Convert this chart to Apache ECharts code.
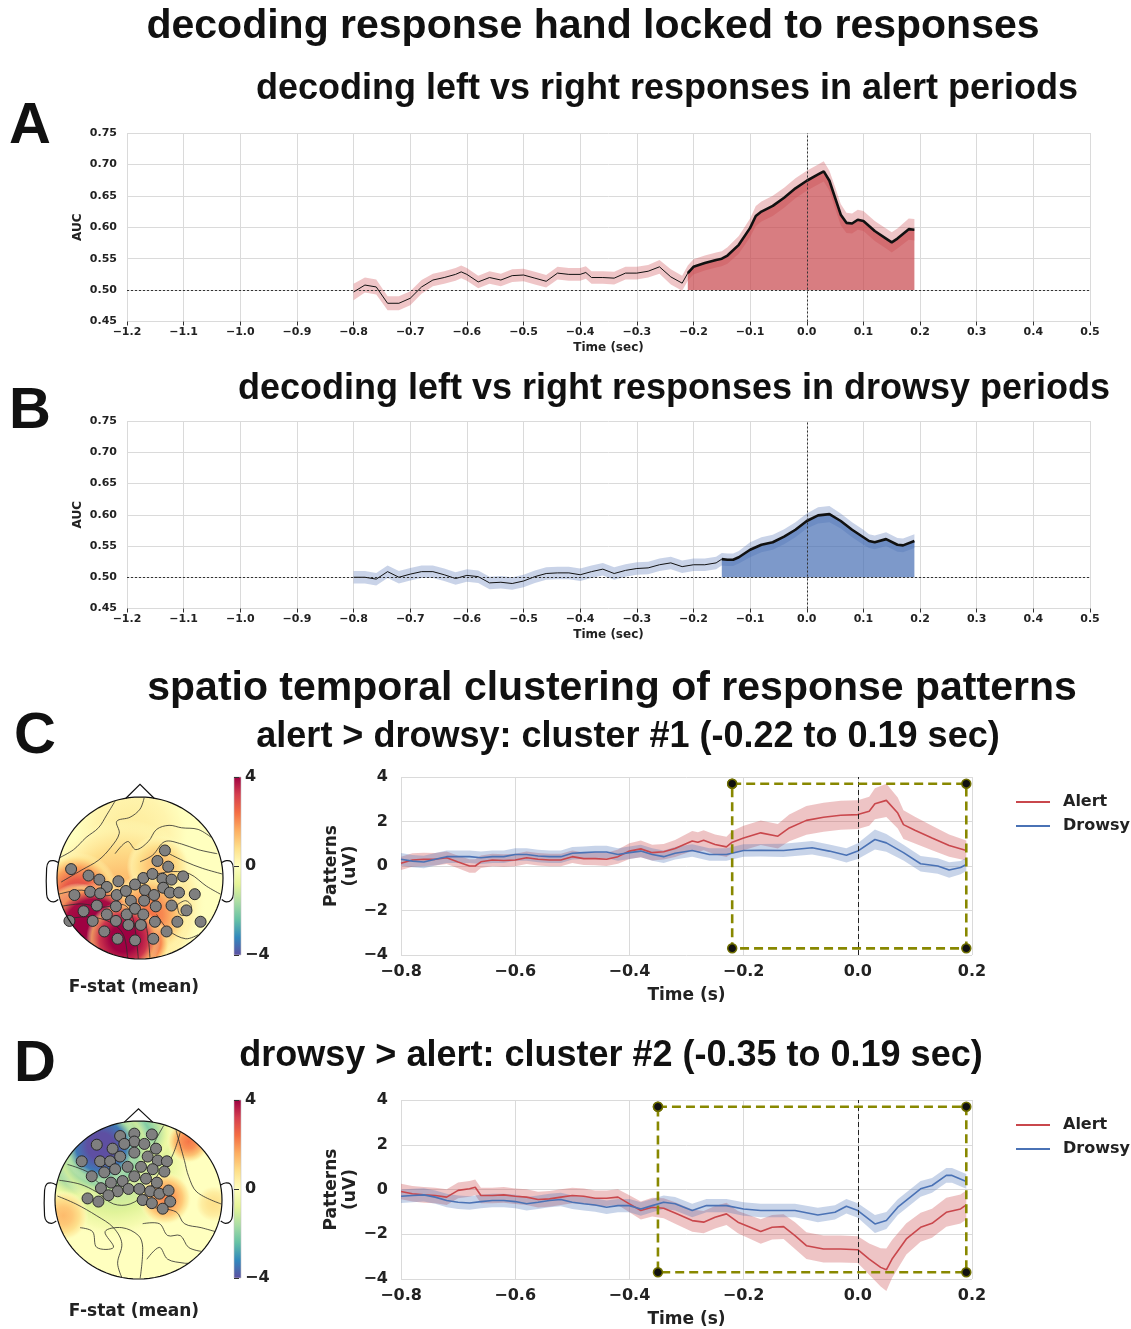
<!DOCTYPE html>
<html><head><meta charset="utf-8">
<script src="https://cdn.jsdelivr.net/npm/echarts@6/dist/echarts.min.js"></script>
<style>html,body{margin:0;padding:0;background:#fff}#chart{width:1131px;height:1329px}</style>
</head><body><div id="chart"></div>
<script>
// ---------- decoding AUC, alert periods ----------
const tA = [-0.80,-0.78,-0.76,-0.74,-0.72,-0.70,-0.68,-0.66,-0.64,-0.62,-0.61,-0.60,-0.58,-0.56,-0.54,-0.52,-0.50,-0.48,-0.46,-0.44,-0.42,-0.40,-0.39,-0.38,-0.36,-0.34,-0.32,-0.30,-0.28,-0.26,-0.24,-0.22,-0.21,-0.20,-0.18,-0.16,-0.15,-0.14,-0.12,-0.10,-0.09,-0.08,-0.06,-0.04,-0.02,0.00,0.02,0.03,0.04,0.05,0.06,0.07,0.08,0.09,0.10,0.12,0.14,0.15,0.16,0.18,0.19];
const aucA = [0.497,0.508,0.505,0.479,0.479,0.487,0.505,0.516,0.520,0.525,0.529,0.525,0.513,0.520,0.516,0.523,0.524,0.519,0.514,0.527,0.525,0.525,0.528,0.520,0.520,0.519,0.527,0.527,0.530,0.537,0.521,0.511,0.527,0.537,0.543,0.548,0.550,0.555,0.572,0.599,0.618,0.625,0.634,0.647,0.662,0.674,0.684,0.689,0.674,0.647,0.620,0.607,0.606,0.612,0.610,0.594,0.582,0.576,0.582,0.597,0.596];
const semA = [0.013,0.012,0.012,0.011,0.011,0.011,0.011,0.010,0.010,0.010,0.010,0.010,0.010,0.010,0.010,0.010,0.010,0.010,0.010,0.010,0.010,0.010,0.010,0.010,0.010,0.010,0.010,0.010,0.010,0.011,0.012,0.012,0.012,0.012,0.012,0.012,0.012,0.013,0.014,0.015,0.016,0.016,0.016,0.016,0.016,0.016,0.016,0.016,0.016,0.017,0.017,0.016,0.016,0.016,0.016,0.016,0.016,0.016,0.016,0.017,0.017];
const sigStartA = -0.21;

// ---------- decoding AUC, drowsy periods ----------
const tB = [-0.80,-0.78,-0.76,-0.74,-0.72,-0.70,-0.68,-0.66,-0.64,-0.62,-0.60,-0.58,-0.56,-0.54,-0.52,-0.50,-0.48,-0.46,-0.44,-0.42,-0.40,-0.38,-0.36,-0.34,-0.32,-0.30,-0.28,-0.26,-0.24,-0.22,-0.20,-0.18,-0.16,-0.15,-0.14,-0.13,-0.12,-0.10,-0.08,-0.06,-0.04,-0.02,0.00,0.02,0.04,0.06,0.08,0.10,0.11,0.12,0.14,0.16,0.17,0.19];
const aucB = [0.500,0.500,0.497,0.509,0.500,0.505,0.509,0.509,0.504,0.498,0.503,0.501,0.491,0.492,0.490,0.494,0.501,0.506,0.507,0.507,0.504,0.509,0.513,0.506,0.511,0.514,0.515,0.520,0.523,0.517,0.520,0.520,0.523,0.529,0.528,0.528,0.532,0.544,0.552,0.556,0.565,0.576,0.590,0.599,0.601,0.590,0.576,0.564,0.558,0.556,0.561,0.552,0.551,0.558];
const semB = [0.010,0.010,0.010,0.010,0.010,0.010,0.010,0.010,0.010,0.010,0.010,0.010,0.010,0.010,0.010,0.010,0.010,0.010,0.010,0.010,0.010,0.010,0.010,0.010,0.010,0.010,0.010,0.010,0.010,0.010,0.010,0.010,0.010,0.010,0.010,0.010,0.010,0.012,0.012,0.012,0.012,0.012,0.012,0.013,0.013,0.012,0.012,0.012,0.011,0.011,0.011,0.011,0.011,0.011];
const sigStartB = -0.15;

// ---------- cluster #1 patterns (alert > drowsy) ----------
const tCAlert = [-0.80,-0.78,-0.76,-0.74,-0.72,-0.70,-0.68,-0.67,-0.66,-0.64,-0.62,-0.60,-0.58,-0.56,-0.54,-0.52,-0.50,-0.48,-0.46,-0.44,-0.42,-0.40,-0.38,-0.36,-0.34,-0.32,-0.29,-0.28,-0.27,-0.25,-0.23,-0.22,-0.20,-0.17,-0.14,-0.12,-0.09,-0.06,-0.03,0.00,0.02,0.03,0.05,0.07,0.08,0.10,0.13,0.16,0.19];
const cAlert = [0.12,0.27,0.30,0.30,0.37,0.18,0.00,0.00,0.19,0.27,0.25,0.27,0.37,0.30,0.27,0.27,0.42,0.33,0.33,0.30,0.42,0.67,0.77,0.60,0.64,0.79,1.12,1.07,1.16,0.97,0.86,1.07,1.26,1.49,1.34,1.71,2.05,2.19,2.28,2.31,2.46,2.80,2.95,2.38,1.86,1.61,1.26,0.92,0.70];
const cAlertSem = [0.30,0.30,0.30,0.28,0.28,0.28,0.30,0.30,0.28,0.28,0.28,0.28,0.28,0.28,0.28,0.28,0.28,0.28,0.30,0.30,0.32,0.35,0.38,0.35,0.35,0.38,0.45,0.45,0.45,0.45,0.45,0.50,0.55,0.55,0.55,0.60,0.65,0.65,0.65,0.65,0.65,0.70,0.75,0.70,0.65,0.60,0.55,0.50,0.45];
const tCDrowsy = [-0.80,-0.78,-0.76,-0.74,-0.72,-0.70,-0.68,-0.66,-0.64,-0.62,-0.60,-0.58,-0.56,-0.54,-0.52,-0.50,-0.48,-0.46,-0.44,-0.42,-0.40,-0.38,-0.36,-0.34,-0.32,-0.29,-0.26,-0.23,-0.20,-0.17,-0.13,-0.08,-0.05,-0.02,0.00,0.03,0.05,0.08,0.11,0.14,0.16,0.18,0.19];
const cDrowsy = [0.30,0.22,0.18,0.30,0.42,0.42,0.42,0.37,0.42,0.42,0.52,0.52,0.45,0.42,0.42,0.57,0.60,0.63,0.63,0.52,0.60,0.67,0.52,0.42,0.57,0.70,0.52,0.52,0.70,0.71,0.70,0.82,0.67,0.48,0.67,1.19,1.04,0.60,0.10,0.00,-0.18,-0.07,0.07];
const cDrowsySem = [0.28,0.28,0.28,0.28,0.28,0.28,0.28,0.28,0.28,0.28,0.28,0.28,0.28,0.28,0.28,0.28,0.28,0.28,0.28,0.28,0.28,0.28,0.28,0.28,0.28,0.28,0.28,0.28,0.28,0.28,0.30,0.30,0.30,0.32,0.35,0.45,0.40,0.35,0.35,0.35,0.35,0.30,0.30];
const clusterC = [-0.22, 0.19];

// ---------- cluster #2 patterns (drowsy > alert) ----------
const tDAlert = [-0.80,-0.78,-0.76,-0.74,-0.72,-0.70,-0.68,-0.67,-0.66,-0.64,-0.62,-0.60,-0.58,-0.56,-0.54,-0.52,-0.50,-0.48,-0.46,-0.44,-0.42,-0.40,-0.38,-0.36,-0.34,-0.32,-0.29,-0.27,-0.25,-0.23,-0.21,-0.17,-0.15,-0.13,-0.11,-0.09,-0.06,-0.03,0.00,0.02,0.04,0.05,0.06,0.085,0.11,0.13,0.155,0.18,0.19];
const dAlert = [-0.09,-0.19,-0.24,-0.27,-0.34,-0.04,0.03,0.10,-0.27,-0.27,-0.24,-0.30,-0.34,-0.45,-0.42,-0.34,-0.27,-0.30,-0.39,-0.39,-0.34,-0.64,-0.94,-0.79,-0.84,-1.05,-1.39,-1.46,-1.24,-1.09,-1.46,-1.88,-1.69,-1.66,-2.06,-2.51,-2.66,-2.66,-2.69,-3.11,-3.48,-3.59,-3.11,-2.21,-1.69,-1.51,-1.02,-0.87,-0.69];
const dAlertSem = [0.35,0.35,0.35,0.35,0.35,0.35,0.35,0.35,0.35,0.35,0.35,0.35,0.35,0.35,0.35,0.35,0.35,0.35,0.35,0.35,0.35,0.38,0.40,0.42,0.45,0.48,0.50,0.50,0.50,0.50,0.50,0.55,0.55,0.55,0.60,0.60,0.60,0.60,0.60,0.70,0.85,0.95,0.85,0.70,0.65,0.65,0.65,0.65,0.65];
const tDDrowsy = [-0.80,-0.78,-0.76,-0.74,-0.72,-0.70,-0.68,-0.66,-0.64,-0.62,-0.60,-0.58,-0.56,-0.54,-0.52,-0.50,-0.48,-0.46,-0.44,-0.42,-0.40,-0.38,-0.36,-0.34,-0.32,-0.29,-0.265,-0.23,-0.20,-0.17,-0.11,-0.07,-0.04,-0.02,0.00,0.03,0.05,0.07,0.11,0.13,0.155,0.165,0.19];
const dDrowsy = [-0.30,-0.27,-0.24,-0.34,-0.49,-0.57,-0.60,-0.54,-0.49,-0.49,-0.54,-0.64,-0.57,-0.49,-0.45,-0.57,-0.64,-0.69,-0.79,-0.72,-0.72,-0.87,-0.72,-0.57,-0.64,-0.94,-0.72,-0.72,-0.87,-0.94,-0.94,-1.14,-1.02,-0.75,-0.94,-1.54,-1.39,-0.79,0.03,0.18,0.63,0.63,0.36];
const dDrowsySem = [0.30,0.30,0.30,0.30,0.30,0.30,0.30,0.30,0.30,0.30,0.30,0.30,0.30,0.30,0.30,0.30,0.30,0.30,0.30,0.30,0.30,0.30,0.30,0.30,0.30,0.30,0.30,0.30,0.30,0.30,0.30,0.32,0.32,0.32,0.32,0.40,0.38,0.35,0.35,0.33,0.33,0.33,0.33];
const clusterD = [-0.35, 0.19];
const boxHalfHeight = 3.7;

// ---------- topographies: sensor positions (head radius = 1) ----------
const sensorsC = [[0.30,0.34],[0.21,0.21],[0.34,0.14],[-0.83,0.11],[-0.62,0.03],[-0.49,-0.02],[-0.26,-0.04],[0.04,0.00],[0.15,0.05],[0.27,-0.01],[0.38,-0.02],[0.52,0.02],[-0.40,-0.11],[-0.06,-0.08],[0.06,-0.15],[0.28,-0.12],[-0.79,-0.21],[-0.60,-0.17],[-0.48,-0.19],[-0.28,-0.21],[-0.17,-0.16],[0.17,-0.21],[0.36,-0.18],[0.47,-0.18],[0.66,-0.20],[-0.52,-0.34],[-0.29,-0.35],[-0.11,-0.28],[0.05,-0.28],[0.19,-0.35],[0.38,-0.34],[0.56,-0.40],[-0.68,-0.41],[-0.40,-0.45],[-0.16,-0.45],[-0.06,-0.38],[0.04,-0.45],[-0.85,-0.53],[-0.57,-0.53],[-0.29,-0.53],[-0.14,-0.58],[0.01,-0.58],[0.18,-0.54],[0.45,-0.54],[0.73,-0.54],[-0.43,-0.66],[0.32,-0.66],[-0.27,-0.75],[-0.06,-0.77],[0.16,-0.75]];
const sensorsD = [[-0.05,0.84],[0.16,0.83],[-0.22,0.81],[-0.50,0.70],[-0.05,0.74],[0.07,0.71],[-0.17,0.71],[-0.31,0.65],[0.21,0.65],[-0.68,0.49],[-0.46,0.49],[-0.34,0.49],[-0.22,0.55],[-0.05,0.60],[0.11,0.55],[0.23,0.50],[0.34,0.49],[-0.41,0.35],[-0.28,0.39],[-0.13,0.42],[0.03,0.42],[0.17,0.39],[0.31,0.36],[-0.56,0.30],[-0.33,0.22],[-0.19,0.24],[-0.05,0.30],[0.09,0.27],[0.22,0.22],[-0.45,0.15],[-0.25,0.11],[-0.12,0.14],[0.01,0.14],[0.14,0.11],[0.25,0.08],[0.36,0.12],[-0.61,0.02],[-0.48,-0.02],[-0.36,0.06],[0.05,0.00],[0.16,-0.04],[0.38,-0.02],[0.29,-0.11]];

// F-statistic field: [x, y, value, extent]; values past the colour range saturate
const fieldC = [[-0.1,0.55,0.5,0.7],[-0.2,-0.3,1.5,1.0],[0.22,0.14,1.4,0.38],[0.1,-0.45,2.4,0.5],[-0.75,-0.2,3.2,0.5],[0.05,-0.8,3.6,0.32],[-0.75,-0.45,5.0,0.38],[-0.55,-0.65,7.0,0.58],[-0.2,-0.75,6.0,0.45]];
const fieldD = [[-0.3,0.5,-1.6,0.95],[-0.75,0.42,-2.4,0.4],[0.0,0.85,-2.4,0.4],[-0.42,0.62,-3.6,0.6],[-0.45,0.68,-6.2,0.46],[0.32,0.02,2.1,0.32],[0.6,0.74,2.3,0.26],[-0.9,-0.2,1.4,0.3],[0.9,-0.05,0.8,0.22]];

const contoursC = [
  [[-0.97,0.25],[-0.8,0.35],[-0.65,0.5],[-0.5,0.62],[-0.4,0.78],[-0.3,0.95]],
  [[-0.95,-0.05],[-0.7,0.1],[-0.5,0.22],[-0.35,0.38],[-0.25,0.55],[-0.28,0.7],[-0.12,0.75],[0.0,0.85],[0.05,0.99]],
  [[-0.3,0.3],[-0.15,0.45],[-0.05,0.35],[0.1,0.45],[0.2,0.6],[0.35,0.65],[0.5,0.62],[0.7,0.6],[0.86,0.5]],
  [[0.0,0.2],[0.15,0.28],[0.3,0.45],[0.5,0.42],[0.7,0.35],[0.93,0.3]],
  [[0.35,0.3],[0.55,0.2],[0.75,0.12],[0.99,0.05]],
  [[-0.98,-0.2],[-0.7,-0.15],[-0.45,-0.22],[-0.2,-0.2],[-0.05,-0.3],[0.05,-0.5],[0.1,-0.75],[0.12,-0.99]],
  [[-0.95,-0.35],[-0.7,-0.32],[-0.45,-0.36],[-0.2,-0.33],[-0.1,-0.45],[-0.05,-0.7],[-0.02,-1.0]],
  [[-0.85,-0.5],[-0.6,-0.48],[-0.35,-0.55],[-0.2,-0.7],[-0.15,-0.99]],
  [[0.2,-0.45],[0.35,-0.65],[0.55,-0.75],[0.7,-0.7]],
  [[0.45,-0.33],[0.55,-0.28],[0.62,-0.35],[0.58,-0.45],[0.48,-0.45],[0.45,-0.33]],
  [[0.2,0.05],[0.4,0.08],[0.6,0.05],[0.8,-0.1],[0.97,-0.2]]
];
const contoursD = [
  [[-0.85,0.45],[-0.6,0.35],[-0.45,0.2],[-0.2,0.2],[0.0,0.35],[0.1,0.55],[0.2,0.75],[0.3,0.94]],
  [[-0.95,0.25],[-0.7,0.2],[-0.5,0.1],[-0.3,-0.05],[-0.1,-0.05],[0.1,0.1],[0.25,0.35],[0.4,0.55],[0.5,0.86]],
  [[-0.97,0.05],[-0.75,-0.05],[-0.5,-0.2],[-0.3,-0.35],[-0.2,-0.55],[-0.25,-0.8],[-0.2,-0.98]],
  [[-0.7,-0.35],[-0.55,-0.4],[-0.5,-0.6],[-0.3,-0.6],[-0.4,-0.4],[-0.2,-0.35],[0.0,-0.45],[0.05,-0.6],[0.02,-0.99]],
  [[0.05,-0.3],[0.25,-0.3],[0.35,-0.45],[0.5,-0.45],[0.6,-0.6],[0.75,-0.65]],
  [[0.45,0.88],[0.55,0.5],[0.6,0.3],[0.7,0.1],[0.99,-0.05]],
  [[0.1,-0.75],[0.25,-0.6],[0.35,-0.75],[0.55,-0.8],[0.6,-0.8]],
  [[0.2,-0.1],[0.45,-0.15],[0.55,-0.3],[0.75,-0.35],[0.92,-0.4]]
];

const SPECTRAL = ['#5e4fa2','#3288bd','#66c2a5','#abdda4','#e6f598','#ffffbf','#fee08b','#fdae61','#f46d43','#d53e4f','#9e0142'];
const F_MIN = -4, F_MAX = 4;

const RED = '#c9474c', BLUE = '#4a72b5';
const RED_BAND = 'rgba(201,71,76,0.32)', BLUE_BAND = 'rgba(74,114,181,0.3)';
const FONT = '"DejaVu Sans", sans-serif';
const TITLE_FONT = '"Liberation Sans", Arial, sans-serif';

// ---------- helpers ----------
const fmt = d => v => (Math.abs(v) < 1e-9 ? (0).toFixed(d) : v.toFixed(d)).replace('-', '\u2212');
const zip = (t, v) => t.map((x, i) => [x, v[i]]);
const fieldColor = v => echarts.color.lerp((Math.max(F_MIN, Math.min(F_MAX, v)) - F_MIN) / (F_MAX - F_MIN), SPECTRAL);

function polygonSeries(gi, pts, color, z) {
  return {type: 'custom', xAxisIndex: gi, yAxisIndex: gi, z, silent: true, data: [pts[0]],
    renderItem: (p, api) => ({type: 'polygon', shape: {points: pts.map(q => api.coord(q))}, style: {fill: color}})};
}
function bandSeries(gi, t, m, s, color, z) {
  const up = t.map((x, i) => [x, m[i] + s[i]]);
  const lo = t.map((x, i) => [x, m[i] - s[i]]).reverse();
  return polygonSeries(gi, up.concat(lo), color, z);
}
function sigFillSeries(gi, t, m, start, base, color, z) {
  const pts = zip(t, m).filter(p => p[0] >= start - 1e-9);
  pts.push([pts[pts.length - 1][0], base], [pts[0][0], base]);
  return polygonSeries(gi, pts, color, z);
}
function ellipsePts(api, s) {
  const pts = [];
  for (let k = 0; k < 96; k++) { const a = k / 96 * 2 * Math.PI; pts.push(api.coord([s * Math.cos(a), s * Math.sin(a)])); }
  return pts;
}
function blobFill(v) {
  const prof = [[0, 1, 1], [0.35, 0.85, 1], [0.65, 0.55, 1], [0.85, 0.25, 0.8], [1, 0, 0]];
  return {type: 'radial', x: 0.5, y: 0.5, r: 0.5,
    colorStops: prof.map(([o, f, a]) => ({offset: o, color: echarts.color.modifyAlpha(fieldColor(v * f), a)}))};
}

function topoSeries(gi, field, sensors, contours) {
  const base = {type: 'custom', xAxisIndex: gi, yAxisIndex: gi, silent: true};
  return [
    Object.assign({}, base, {z: 1, data: [[0, 0]],
      renderItem: (p, api) => ({type: 'polygon', shape: {points: ellipsePts(api, 1)}, style: {fill: fieldColor(0)}})}),
    Object.assign({}, base, {z: 1, data: field,
      renderItem: (p, api) => {
        const c = api.coord([api.value(0), api.value(1)]);
        const r = api.value(3) * api.size([1, 0])[0];
        return {type: 'circle', shape: {cx: c[0], cy: c[1], r}, style: {fill: blobFill(api.value(2)), blend: 'darken'}};
      }}),
    Object.assign({}, base, {z: 1, data: contours.map((c, i) => [c[0][0], c[0][1], i]),
      renderItem: (p, api) => ({type: 'polyline', shape: {points: contours[p.dataIndex].map(q => api.coord(q)), smooth: 0.35},
        style: {stroke: '#2b2b2b', lineWidth: 0.8, fill: null}})}),
    // white surround that trims the field to the scalp outline
    Object.assign({}, base, {z: 2, data: [[0, 0]],
      renderItem: (p, api) => {
        const c = api.coord([0, 0]);
        const rx = api.size([1, 0])[0], ry = api.size([0, 1])[1];
        const R = Math.max(rx, ry) + 40;
        const pts = [[c[0] + R, c[1]], [c[0] + R, c[1] + R], [c[0] - R, c[1] + R], [c[0] - R, c[1] - R], [c[0] + R, c[1] - R], [c[0] + R, c[1]]];
        for (let k = 0; k <= 96; k++) { const a = -k / 96 * 2 * Math.PI; pts.push([c[0] + rx * Math.cos(a), c[1] + ry * Math.sin(a)]); }
        return {type: 'polygon', shape: {points: pts}, style: {fill: '#fff'}};
      }}),
    {type: 'scatter', xAxisIndex: gi, yAxisIndex: gi, z: 3, silent: true, data: sensors, symbolSize: 11,
      itemStyle: {color: '#7f7f7f', borderColor: '#2a2a2a', borderWidth: 1, opacity: 1}},
    Object.assign({}, base, {z: 4, data: [[0, 0]],
      renderItem: (p, api) => {
        const ln = {stroke: '#111', lineWidth: 1.2, fill: null};
        const ear = sx => [[-0.985, 0.19], [-1.04, 0.215], [-1.1, 0.2], [-1.125, 0.12], [-1.125, -0.2], [-1.1, -0.27], [-1.04, -0.295], [-0.985, -0.265]]
          .map(q => api.coord([q[0] * sx, q[1]]));
        return {type: 'group', children: [
          {type: 'polygon', shape: {points: ellipsePts(api, 1)}, style: ln},
          {type: 'polyline', shape: {points: [[-0.17, 0.985], [0, 1.155], [0.17, 0.985]].map(q => api.coord(q))}, style: ln},
          {type: 'polyline', shape: {points: ear(1), smooth: 0.3}, style: ln},
          {type: 'polyline', shape: {points: ear(-1), smooth: 0.3}, style: ln}
        ]};
      }})
  ];
}
function colorbarSeries(gi) {
  const stops = SPECTRAL.slice().reverse().map((c, i, a) => ({offset: i / (a.length - 1), color: c}));
  return {type: 'custom', xAxisIndex: gi, yAxisIndex: gi, z: 6, silent: true, data: [[0, 0]],
    renderItem: (p, api) => {
      const a = api.coord([0, F_MAX]), b = api.coord([1, F_MIN]);
      return {type: 'rect', shape: {x: a[0], y: a[1], width: b[0] - a[0], height: b[1] - a[1]},
        style: {fill: {type: 'linear', x: 0, y: 0, x2: 0, y2: 1, colorStops: stops}, stroke: '#c8c8c8', lineWidth: 0.6}};
    }};
}

// ---------- axes ----------
const grids = [
  {left: 127, top: 133, width: 963, height: 188.5},
  {left: 127, top: 421, width: 963, height: 187.5},
  {left: 401, top: 777, width: 571, height: 178},
  {left: 401, top: 1100, width: 571, height: 179},
  {left: 57, top: 797, width: 166, height: 162},
  {left: 55, top: 1121, width: 167, height: 158},
  {left: 234, top: 777, width: 7, height: 178},
  {left: 234, top: 1100, width: 7, height: 178}
];
const gridLine = {show: true, lineStyle: {color: '#dadada', width: 1}};
const aucX = gi => ({type: 'value', gridIndex: gi, min: -1.2, max: 0.5, interval: 0.1,
  axisLine: {show: false}, axisTick: {show: true, length: 4, lineStyle: {color: '#333'}}, splitLine: gridLine,
  axisLabel: {formatter: fmt(1), fontSize: 11, fontWeight: 'bold', color: '#222', margin: 5, fontFamily: FONT},
  name: 'Time (sec)', nameLocation: 'middle', nameGap: 20, nameMoveOverlap: false,
  nameTextStyle: {fontSize: 12, fontWeight: 'bold', color: '#222', fontFamily: FONT}});
const aucY = gi => ({type: 'value', gridIndex: gi, min: 0.45, max: 0.75, interval: 0.05,
  axisLine: {show: false}, axisTick: {show: false}, splitLine: gridLine,
  axisLabel: {formatter: fmt(2), fontSize: 11, fontWeight: 'bold', color: '#222', margin: 10, fontFamily: FONT},
  name: 'AUC', nameLocation: 'middle', nameGap: 43, nameRotate: 90, nameMoveOverlap: false,
  nameTextStyle: {fontSize: 12, fontWeight: 'bold', color: '#222', fontFamily: FONT}});
const patX = gi => ({type: 'value', gridIndex: gi, min: -0.8, max: 0.2, interval: 0.2,
  axisLine: {show: false}, axisTick: {show: false}, splitLine: gridLine,
  axisLabel: {formatter: fmt(1), fontSize: 16, fontWeight: 'bold', color: '#222', margin: 9, fontFamily: FONT},
  name: 'Time (s)', nameLocation: 'middle', nameGap: 32, nameMoveOverlap: false,
  nameTextStyle: {fontSize: 17, fontWeight: 'bold', color: '#222', fontFamily: FONT}});
const patY = gi => ({type: 'value', gridIndex: gi, min: -4, max: 4, interval: 2,
  axisLine: {show: false}, axisTick: {show: false}, splitLine: gridLine,
  axisLabel: {formatter: fmt(0), fontSize: 16, fontWeight: 'bold', color: '#222', margin: 13, fontFamily: FONT},
  name: 'Patterns\n(uV)', nameLocation: 'middle', nameGap: 41, nameRotate: 90, nameMoveOverlap: false,
  nameTextStyle: {fontSize: 17, fontWeight: 'bold', color: '#222', lineHeight: 19, fontFamily: FONT}});
const hidden = (gi, min, max) => ({type: 'value', gridIndex: gi, min, max, show: false});
const cbarY = gi => ({type: 'value', gridIndex: gi, min: F_MIN, max: F_MAX, interval: 4, position: 'right', z: 10,
  axisLine: {show: false}, splitLine: {show: false}, axisTick: {show: true, length: 5, lineStyle: {color: '#333'}},
  axisLabel: {formatter: fmt(0), fontSize: 16, fontWeight: 'bold', color: '#222', margin: 4, fontFamily: FONT}});

// ---------- series ----------
function aucSeries(gi, t, m, s, start, band, fill) {
  const k = t.findIndex(x => x >= start - 1e-9);
  return [
    bandSeries(gi, t, m, s, band, 1),
    sigFillSeries(gi, t, m, start, 0.5, fill, 2),
    {type: 'line', xAxisIndex: gi, yAxisIndex: gi, z: 3, silent: true, showSymbol: false, data: zip(t, m).slice(0, k + 1),
      lineStyle: {color: '#111', width: 1}},
    {type: 'line', xAxisIndex: gi, yAxisIndex: gi, z: 4, silent: true, showSymbol: false, data: zip(t, m).slice(k),
      lineStyle: {color: '#111', width: 2.6},
      markLine: {silent: true, symbol: 'none', label: {show: false}, lineStyle: {color: '#333', type: [2, 2], width: 1},
        data: [{xAxis: 0}, {yAxis: 0.5}]}}
  ];
}
function patternSeries(gi, ta, a, sa, td, d, sd, win) {
  return [
    bandSeries(gi, ta, a, sa, RED_BAND, 1),
    bandSeries(gi, td, d, sd, BLUE_BAND, 1),
    {name: 'Alert', type: 'line', xAxisIndex: gi, yAxisIndex: gi, z: 3, showSymbol: false, data: zip(ta, a),
      lineStyle: {color: RED, width: 1.6}, itemStyle: {color: RED},
      markLine: {silent: true, symbol: 'none', label: {show: false}, lineStyle: {color: '#222', type: [5, 3], width: 1}, data: [{xAxis: 0}]}},
    {name: 'Drowsy', type: 'line', xAxisIndex: gi, yAxisIndex: gi, z: 3, showSymbol: false, data: zip(td, d),
      lineStyle: {color: BLUE, width: 1.6}, itemStyle: {color: BLUE}},
    {type: 'line', xAxisIndex: gi, yAxisIndex: gi, z: 6, silent: true, showSymbol: true, symbol: 'circle', symbolSize: 9,
      data: [[win[0], boxHalfHeight], [win[1], boxHalfHeight], [win[1], -boxHalfHeight], [win[0], -boxHalfHeight], [win[0], boxHalfHeight]],
      lineStyle: {color: '#888800', width: 2.6, type: [9, 5]}, itemStyle: {color: '#111', borderColor: '#6e6e00', borderWidth: 1.5}}
  ];
}

const legendCfg = top => ({data: ['Alert', 'Drowsy'], orient: 'vertical', left: 1011, top, icon: 'rect', itemWidth: 34, itemHeight: 2,
  itemGap: 8, selectedMode: false, textStyle: {fontSize: 16, fontWeight: 'bold', color: '#222', fontFamily: FONT, padding: [0, 0, 0, 8]}});

const T = (text, x, y, size) => ({type: 'text', x, y, z: 100, silent: true,
  style: {text, fill: '#111', font: `bold ${size}px ${TITLE_FONT}`, textAlign: 'center', textVerticalAlign: 'middle', align: 'center', verticalAlign: 'middle'}});
const L = (text, x, y) => ({type: 'text', x, y, z: 100, silent: true,
  style: {text, fill: '#222', font: `bold 17px ${FONT}`, textAlign: 'center', textVerticalAlign: 'middle', align: 'center', verticalAlign: 'middle'}});

const option = {
  animation: false,
  backgroundColor: '#fff',
  textStyle: {fontFamily: FONT},
  grid: grids,
  xAxis: [aucX(0), aucX(1), patX(2), patX(3), hidden(4, -1, 1), hidden(5, -1, 1), hidden(6, 0, 1), hidden(7, 0, 1)],
  yAxis: [aucY(0), aucY(1), patY(2), patY(3), hidden(4, -1, 1), hidden(5, -1, 1), cbarY(6), cbarY(7)],
  legend: [legendCfg(789), legendCfg(1112)],
  series: [].concat(
    aucSeries(0, tA, aucA, semA, sigStartA, 'rgba(205,80,85,0.33)', 'rgba(200,70,75,0.7)'),
    aucSeries(1, tB, aucB, semB, sigStartB, 'rgba(100,130,190,0.35)', 'rgba(70,110,180,0.7)'),
    patternSeries(2, tCAlert, cAlert, cAlertSem, tCDrowsy, cDrowsy, cDrowsySem, clusterC),
    patternSeries(3, tDAlert, dAlert, dAlertSem, tDDrowsy, dDrowsy, dDrowsySem, clusterD),
    topoSeries(4, fieldC, sensorsC, contoursC),
    topoSeries(5, fieldD, sensorsD, contoursD),
    [colorbarSeries(6), colorbarSeries(7)]
  ),
  graphic: [
    T('decoding response hand locked to responses', 593, 27, 41),
    T('decoding left vs right responses in alert periods', 667, 89, 36),
    T('decoding left vs right responses in drowsy periods', 674, 389, 36),
    T('spatio temporal clustering of response patterns', 612, 689, 41),
    T('alert > drowsy: cluster #1 (-0.22 to 0.19 sec)', 628, 737, 36),
    T('drowsy > alert: cluster #2 (-0.35 to 0.19 sec)', 611, 1056, 36),
    T('A', 30, 127, 58), T('B', 30, 412, 58), T('C', 35, 737, 58), T('D', 35, 1065, 58),
    L('F-stat (mean)', 134, 988), L('F-stat (mean)', 134, 1312)
  ]
};
echarts.init(document.getElementById('chart'), null, {renderer: 'canvas'}).setOption(option);
</script></body></html>
